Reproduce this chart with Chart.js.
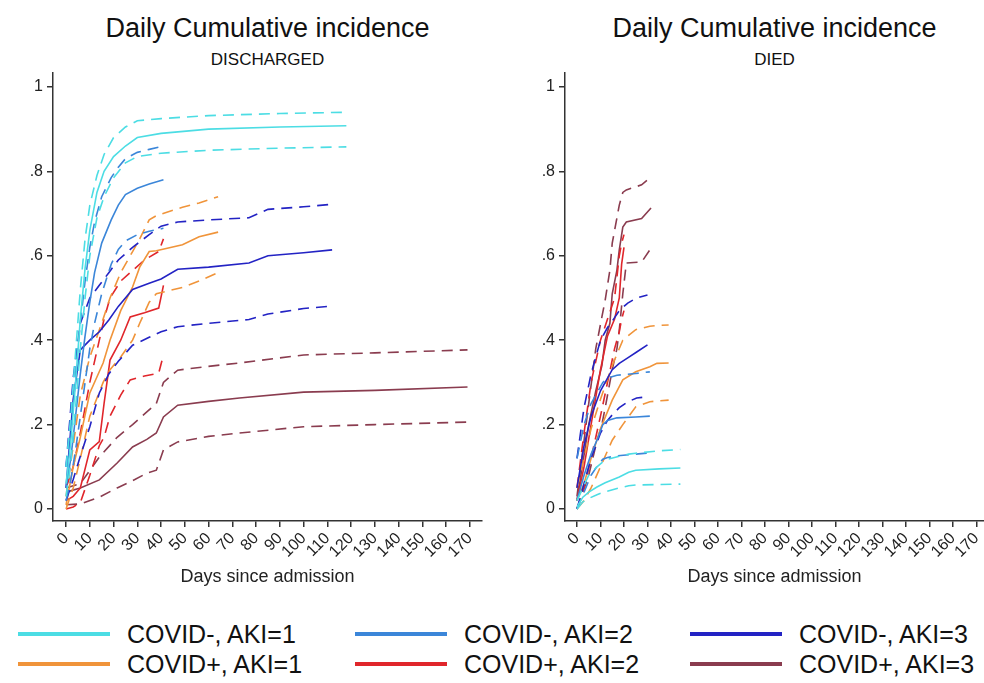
<!DOCTYPE html>
<html><head><meta charset="utf-8">
<script src="https://cdn.jsdelivr.net/npm/chart.js"></script>
<style>
html,body{margin:0;padding:0;background:#fff;}
body{width:984px;height:683px;overflow:hidden;position:relative;font-family:"Liberation Sans",Arial,sans-serif;color:#111;}
.ttl{position:absolute;text-align:center;font-size:27px;white-space:nowrap;line-height:32px;}
.sub{position:absolute;text-align:center;font-size:17px;white-space:nowrap;line-height:20px;}
.cv{position:absolute;top:0;}
.leg{position:absolute;height:30px;}
.leg .sw{position:absolute;top:13px;height:4px;width:92px;left:0;}
.leg .tx{position:absolute;left:109px;top:0;font-size:25px;line-height:30px;white-space:nowrap;}
</style></head>
<body>
<div class="ttl" style="left:53px;width:429px;top:12px;">Daily Cumulative incidence</div>
<div class="sub" style="left:53px;width:429px;top:50px;">DISCHARGED</div>
<div class="ttl" style="left:565px;width:419px;top:12px;">Daily Cumulative incidence</div>
<div class="sub" style="left:565px;width:419px;top:50px;">DIED</div>
<canvas id="cvL" class="cv" style="left:0" width="492" height="600"></canvas>
<canvas id="cvR" class="cv" style="left:492px" width="492" height="600"></canvas>
<div id="legend"></div>
<script>
// ---- axis ticks ----
const xTickValues = [0,10,20,30,40,50,60,70,80,90,100,110,120,130,140,150,160,170];
const yTickValues = [0,0.2,0.4,0.6,0.8,1];
const yTickLabels = ["0",".2",".4",".6",".8","1"];
const groupLabels = ["COVID-, AKI=1","COVID-, AKI=2","COVID-, AKI=3","COVID+, AKI=1","COVID+, AKI=2","COVID+, AKI=3"];

// ---- DISCHARGED panel ----
const dNeg1Days = [0,2,4,6,8,10,13,16,20,25,30,40,60,90,118];
const dNeg1Est  = [0.06,0.16,0.30,0.45,0.57,0.66,0.75,0.80,0.835,0.86,0.88,0.89,0.90,0.905,0.908];
const dNeg1Hi   = [0.10,0.22,0.37,0.52,0.64,0.72,0.79,0.84,0.88,0.905,0.92,0.925,0.932,0.937,0.94];
const dNeg1Lo   = [0.03,0.11,0.24,0.38,0.50,0.60,0.69,0.74,0.785,0.82,0.835,0.843,0.85,0.855,0.858];

const dNeg2Days = [0,2,4,6,8,10,12,15,19,22,25,30,35,41];
const dNeg2Est  = [0.05,0.12,0.22,0.32,0.41,0.49,0.56,0.63,0.685,0.72,0.745,0.76,0.77,0.78];
const dNeg2Hi   = [0.10,0.20,0.32,0.44,0.54,0.62,0.68,0.74,0.785,0.81,0.83,0.845,0.852,0.86];
const dNeg2Lo   = [0.02,0.07,0.14,0.22,0.30,0.38,0.44,0.51,0.58,0.615,0.635,0.65,0.658,0.665];

const dNeg3Days = [0,3,6,10,14,18,22,28,35,40,47,60,77,85,100,112];
const dNeg3Est  = [0.05,0.26,0.377,0.40,0.42,0.448,0.48,0.52,0.535,0.545,0.568,0.573,0.583,0.60,0.607,0.614];
const dNeg3Hi   = [0.10,0.31,0.44,0.50,0.53,0.56,0.59,0.62,0.65,0.67,0.68,0.685,0.69,0.71,0.716,0.722];
const dNeg3Lo   = [0.02,0.07,0.125,0.195,0.275,0.32,0.35,0.388,0.407,0.42,0.432,0.44,0.449,0.462,0.475,0.481];

const dPos1Days = [0,3,6,10,15.6,18.5,23,28,31,35,38,49,56,64];
const dPos1Est  = [0.01,0.10,0.17,0.275,0.346,0.40,0.47,0.526,0.573,0.61,0.612,0.626,0.645,0.656];
const dPos1Hi   = [0.03,0.15,0.27,0.36,0.45,0.50,0.56,0.61,0.64,0.685,0.695,0.715,0.725,0.74];
const dPos1Lo   = [0.00,0.05,0.12,0.22,0.30,0.33,0.36,0.40,0.44,0.49,0.51,0.525,0.54,0.56];

const dPos2Days = [0,3,6,10,14,16,18.5,23,27,33,39,41];
const dPos2Est  = [0.02,0.03,0.05,0.14,0.16,0.25,0.353,0.40,0.455,0.465,0.476,0.53];
const dPos2Hi   = [0.05,0.10,0.18,0.30,0.40,0.45,0.50,0.54,0.56,0.59,0.61,0.64];
const dPos2Lo   = [0.00,0.005,0.015,0.08,0.15,0.17,0.22,0.27,0.306,0.315,0.322,0.365];

const dPos3Days = [0,6,14,21.5,28,34,38,41,47,60,73,100,130,169];
const dPos3Est  = [0.04,0.05,0.069,0.109,0.147,0.165,0.18,0.218,0.246,0.255,0.263,0.277,0.281,0.289];
const dPos3Hi   = [0.05,0.06,0.123,0.17,0.20,0.23,0.25,0.30,0.329,0.338,0.346,0.365,0.37,0.377];
const dPos3Lo   = [0.01,0.012,0.028,0.05,0.067,0.085,0.092,0.14,0.159,0.172,0.18,0.195,0.20,0.206];

// ---- DIED panel ----
const mNeg1Days = [0,2.5,5,8.5,12,18,22,25,35,44];
const mNeg1Est  = [0.005,0.028,0.04,0.052,0.062,0.076,0.087,0.092,0.095,0.097];
const mNeg1Hi   = [0.02,0.05,0.08,0.10,0.116,0.125,0.13,0.132,0.138,0.141];
const mNeg1Lo   = [0.00,0.017,0.025,0.034,0.041,0.05,0.055,0.057,0.058,0.059];

const mNeg2Days = [0,3,6,9,11,13,17,25,31];
const mNeg2Est  = [0.02,0.08,0.13,0.17,0.20,0.21,0.216,0.218,0.22];
const mNeg2Hi   = [0.12,0.20,0.25,0.28,0.30,0.31,0.317,0.321,0.325];
const mNeg2Lo   = [0.00,0.04,0.08,0.105,0.118,0.122,0.126,0.13,0.133];

const mNeg3Days = [0,3,6,10,13,15,18,21.6,25.4,30];
const mNeg3Est  = [0.05,0.15,0.22,0.28,0.31,0.33,0.345,0.358,0.372,0.389];
const mNeg3Hi   = [0.12,0.24,0.32,0.40,0.43,0.445,0.47,0.488,0.50,0.507];
const mNeg3Lo   = [0.00,0.06,0.12,0.18,0.21,0.223,0.24,0.254,0.263,0.266];

const mPos1Days = [0,3,6,10,15,19.5,25,31,34,39];
const mPos1Est  = [0.02,0.06,0.12,0.19,0.258,0.306,0.325,0.337,0.345,0.346];
const mPos1Hi   = [0.05,0.12,0.19,0.26,0.34,0.40,0.425,0.433,0.435,0.436];
const mPos1Lo   = [0.00,0.02,0.05,0.10,0.163,0.20,0.242,0.254,0.256,0.258];

const mPos2Days = [0,3,6,10,13,16,18,19,20];
const mPos2Est  = [0.02,0.10,0.20,0.33,0.41,0.45,0.50,0.58,0.62];
const mPos2Hi   = [0.05,0.18,0.30,0.40,0.45,0.50,0.60,0.63,0.65];
const mPos2Lo   = [0.00,0.05,0.12,0.22,0.30,0.38,0.42,0.45,0.47];

const mPos3Days = [0,5,8,10.6,12,14,15,17,18,19.5,21,27.5,31.5];
const mPos3Est  = [0.02,0.20,0.28,0.34,0.40,0.44,0.51,0.566,0.614,0.668,0.68,0.688,0.713];
const mPos3Hi   = [0.03,0.25,0.38,0.455,0.495,0.566,0.63,0.69,0.72,0.75,0.756,0.768,0.787];
const mPos3Lo   = [0.00,0.08,0.15,0.20,0.24,0.30,0.33,0.38,0.424,0.51,0.583,0.585,0.618];

// ---- styles ----
const groupColors = ["#4cdde4","#3b86d9","#2323c4","#f0943a","#e0262b","#8a3c4f"];

const dischargedGroups = [
  [dNeg1Days,dNeg1Est,dNeg1Hi,dNeg1Lo],[dNeg2Days,dNeg2Est,dNeg2Hi,dNeg2Lo],[dNeg3Days,dNeg3Est,dNeg3Hi,dNeg3Lo],
  [dPos1Days,dPos1Est,dPos1Hi,dPos1Lo],[dPos2Days,dPos2Est,dPos2Hi,dPos2Lo],[dPos3Days,dPos3Est,dPos3Hi,dPos3Lo]];
const diedGroups = [
  [mNeg1Days,mNeg1Est,mNeg1Hi,mNeg1Lo],[mNeg2Days,mNeg2Est,mNeg2Hi,mNeg2Lo],[mNeg3Days,mNeg3Est,mNeg3Hi,mNeg3Lo],
  [mPos1Days,mPos1Est,mPos1Hi,mPos1Lo],[mPos2Days,mPos2Est,mPos2Hi,mPos2Lo],[mPos3Days,mPos3Est,mPos3Hi,mPos3Lo]];

function buildDatasets(groups){
  const ds = [];
  groups.forEach((g,gi)=>{
    const [days,est,hi,lo] = g;
    [[hi,true,' upper'],[lo,true,' lower'],[est,false,'']].forEach(([vals,dashed,suf])=>{
      ds.push({
        label: groupLabels[gi]+suf,
        data: days.map((d,i)=>({x:d,y:vals[i]})),
        borderColor: groupColors[gi],
        borderWidth: 1.6,
        borderDash: dashed ? [11,7] : [],
        pointRadius: 0,
        tension: 0,
        fill: false
      });
    });
  });
  return ds;
}

function makeOptions(xmin,xmax,yAxisWidth,padRight){
  const axisCol = '#333';
  return {
    responsive:false, animation:false,
    layout:{padding:{left:0,right:padRight,top:73,bottom:0}},
    plugins:{legend:{display:false},tooltip:{enabled:false},title:{display:false}},
    scales:{
      x:{type:'linear',min:xmin,max:xmax,
        afterBuildTicks:(s)=>{s.ticks = xTickValues.map(v=>({value:v}));},
        afterFit:(s)=>{s.height=79;s.paddingLeft=0;s.paddingRight=0;},
        ticks:{autoSkip:false,minRotation:45,maxRotation:45,padding:2,color:'#222',
          font:{family:'"Liberation Sans", Arial, sans-serif',size:16},
          callback:(v,i)=>String(xTickValues[i])},
        grid:{drawOnChartArea:false,drawTicks:true,tickLength:6,color:axisCol,lineWidth:1.5},
        border:{display:true,color:axisCol,width:1.5},
        title:{display:true,text:'Days since admission',color:'#222',
          font:{family:'"Liberation Sans", Arial, sans-serif',size:18},padding:{top:0,bottom:12}}
      },
      y:{type:'linear',min:-0.0284,max:1.033,
        afterBuildTicks:(s)=>{s.ticks = yTickValues.map(v=>({value:v}));},
        afterFit:(s)=>{s.width=yAxisWidth;s.paddingTop=0;s.paddingBottom=0;},
        ticks:{padding:4,color:'#222',font:{family:'"Liberation Sans", Arial, sans-serif',size:16},
          callback:(v,i)=>yTickLabels[i]},
        grid:{drawOnChartArea:false,drawTicks:true,tickLength:6,color:axisCol,lineWidth:1.5},
        border:{display:true,color:axisCol,width:1.5}
      }
    }
  };
}

new Chart(document.getElementById('cvL'),{type:'line',data:{datasets:buildDatasets(dischargedGroups)},options:makeOptions(-5.5,175.1,53,10)});
new Chart(document.getElementById('cvR'),{type:'line',data:{datasets:buildDatasets(diedGroups)},options:makeOptions(-5.1,173.2,73,0)});

// ---- legend (HTML) ----
const legendPos = [[18,619],[355,619],[690,619],[18,649],[355,649],[690,649]];
const legEl = document.getElementById('legend');
groupLabels.forEach((lab,i)=>{
  const d = document.createElement('div');
  d.className='leg';
  d.style.left=legendPos[i][0]+'px'; d.style.top=legendPos[i][1]+'px';
  d.innerHTML='<div class="sw" style="background:'+groupColors[i]+'"></div><div class="tx"></div>';
  d.querySelector('.tx').textContent=lab;
  legEl.appendChild(d);
});
</script>
</body></html>
